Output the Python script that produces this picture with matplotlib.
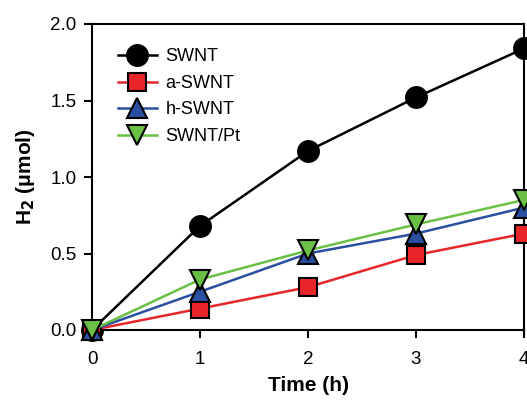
import matplotlib
matplotlib.use("Agg")
import matplotlib.pyplot as plt

plt.rcParams['font.family'] = ['Liberation Sans', 'DejaVu Sans']

time_h = [0, 1, 2, 3, 4]
swnt = [0.0, 0.68, 1.17, 1.52, 1.84]
a_swnt = [0.0, 0.14, 0.28, 0.49, 0.63]
h_swnt = [0.0, 0.25, 0.50, 0.63, 0.80]
swnt_pt = [0.0, 0.33, 0.52, 0.69, 0.85]
labels = ['SWNT', 'a-SWNT', 'h-SWNT', 'SWNT/Pt']

fig = plt.figure(figsize=(5.27, 4.01), dpi=100)
ax = fig.add_axes([92/527, 71/401, 432/527, 306/401])

styles = [
    (swnt, 'o', 'black', 'black', 15),
    (a_swnt, 's', '#e8262a', '#e8262a', 13.5),
    (h_swnt, '^', '#2a4fa0', '#2a4fa0', 15),
    (swnt_pt, 'v', '#6abf45', '#6abf45', 15),
]
for (vals, m, lc, fc, ms), lab in zip(styles, labels):
    ax.plot(time_h, vals, marker=m, color=lc, markerfacecolor=fc,
            markeredgecolor='black', markeredgewidth=1.5, markersize=ms,
            linewidth=1.8, label=lab, clip_on=False, zorder=3)

ax.set_xlim(0, 4)
ax.set_ylim(0, 2.0)
ax.set_xticks([0, 1, 2, 3, 4])
ax.set_yticks([0.0, 0.5, 1.0, 1.5, 2.0])
ax.set_yticklabels(['0.0', '0.5', '1.0', '1.5', '2.0'])
ax.tick_params(direction='out', length=6, width=1.5, labelsize=13.5)
ax.tick_params(axis='x', pad=9)
ax.tick_params(axis='y', pad=5)
for s in ax.spines.values():
    s.set_linewidth(1.5)

ax.set_xlabel('Time (h)', fontsize=15, fontweight='bold', labelpad=6)
ax.set_ylabel('H$_\\mathbf{2}$ (\u03bcmol)', fontsize=15, fontweight='bold', labelpad=10)

leg = ax.legend(loc='upper left', frameon=False, fontsize=13,
                bbox_to_anchor=(0.03, 0.962), handlelength=2.2,
                handletextpad=0.45, labelspacing=0.53, borderaxespad=0.3,
                markerscale=1.0)

fig.savefig('out.png', dpi=100)
